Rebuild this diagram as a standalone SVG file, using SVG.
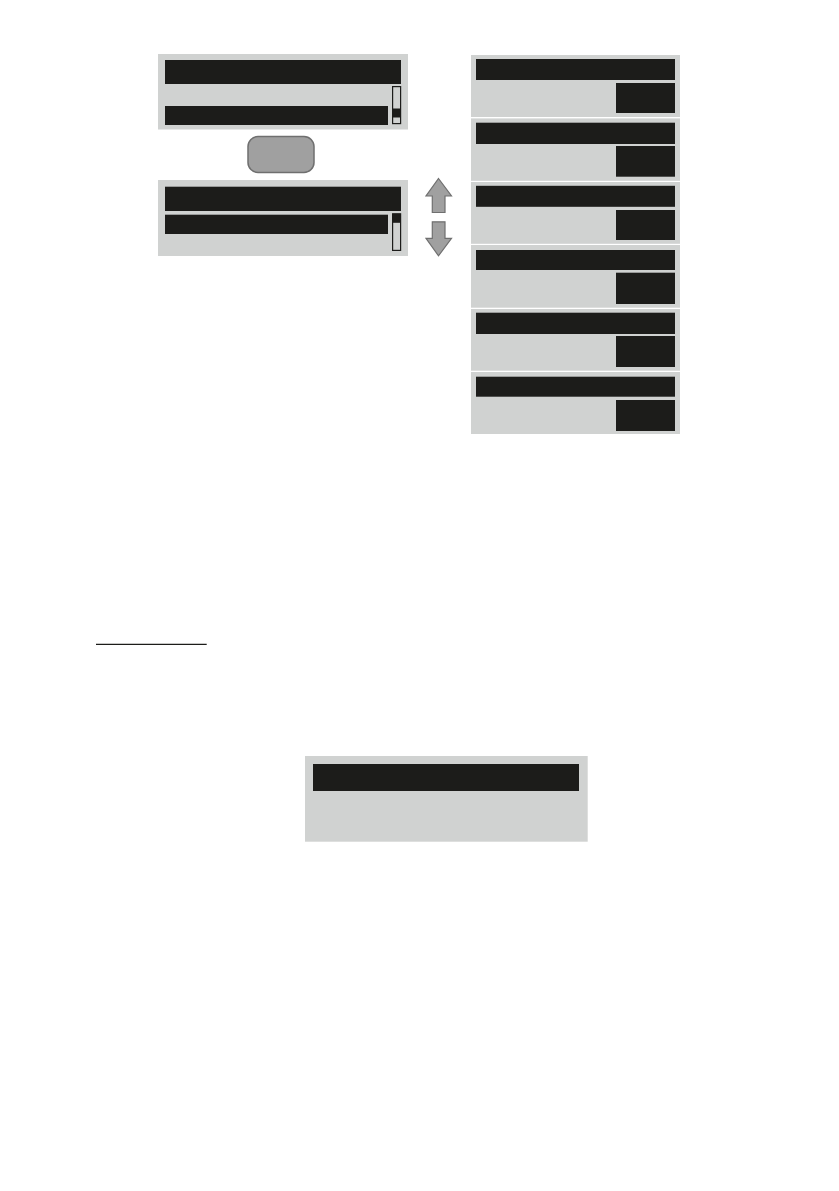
<svg xmlns="http://www.w3.org/2000/svg" width="839" height="1191" viewBox="0 0 839 1191">
<style>
.panel{fill:#d0d2d1}
.bar{fill:#1c1c1a}
.sb{fill:#d0d2d1;stroke:#1c1c1a;stroke-width:1.2}
.btn{fill:#a0a0a0;stroke:#6f6f6f;stroke-width:1.5}
.arr{fill:#a0a0a0;stroke:#6f6f6f;stroke-width:1.2}
</style>
<rect width="839" height="1191" fill="#ffffff"/>
<g id="menu-top">
<rect class="panel" x="158" y="54" width="250" height="75.5"/>
<rect class="bar" x="165" y="60" width="236" height="24"/>
<rect class="bar" x="165" y="106" width="223" height="19"/>
<rect class="sb" x="392.6" y="86.6" width="8" height="37"/>
<rect class="bar" x="392.6" y="108.5" width="8" height="9"/>
</g>
<g id="button">
<rect class="btn" x="248" y="136.5" width="66" height="36" rx="10"/>
</g>
<g id="menu-bottom">
<rect class="panel" x="158" y="180" width="250" height="76"/>
<rect class="bar" x="165" y="186.7" width="236" height="24.3"/>
<rect class="bar" x="165" y="214.7" width="223" height="19.3"/>
<rect class="sb" x="392.6" y="213.8" width="8" height="36.6"/>
<rect class="bar" x="392.6" y="213.8" width="8" height="9"/>
</g>
<g id="arrows">
<path class="arr" d="M438.5,178.5 L451.5,196 L445,196 L445,212.5 L432.3,212.5 L432.3,196 L426,196 Z"/>
<path class="arr" d="M432.3,221.8 L445,221.8 L445,238.3 L451.5,238.3 L438.5,255.8 L426,238.3 L432.3,238.3 Z"/>
</g>
<g id="list-1">
<rect class="panel" x="471" y="55" width="209" height="62"/>
<rect class="bar" x="476" y="59" width="199" height="21"/>
<rect class="bar" x="616" y="83" width="59" height="30"/>
</g>
<g id="list-2">
<rect class="panel" x="471" y="118.4" width="209" height="62.4"/>
<rect class="bar" x="476" y="122.7" width="199" height="21.3"/>
<rect class="bar" x="616" y="146" width="59" height="30.7"/>
</g>
<g id="list-3">
<rect class="panel" x="471" y="182" width="209" height="61.8"/>
<rect class="bar" x="476" y="185.8" width="199" height="21"/>
<rect class="bar" x="616" y="210" width="59" height="30"/>
</g>
<g id="list-4">
<rect class="panel" x="471" y="245" width="209" height="62.7"/>
<rect class="bar" x="476" y="250" width="199" height="20"/>
<rect class="bar" x="616" y="272.7" width="59" height="31.3"/>
</g>
<g id="list-5">
<rect class="panel" x="471" y="309" width="209" height="61.7"/>
<rect class="bar" x="476" y="312.7" width="199" height="21.3"/>
<rect class="bar" x="616" y="336" width="59" height="31"/>
</g>
<g id="list-6">
<rect class="panel" x="471" y="372" width="209" height="62"/>
<rect class="bar" x="476" y="376.7" width="199" height="20"/>
<rect class="bar" x="616" y="400" width="59" height="31"/>
</g>
<g id="underline">
<line x1="96" y1="644.3" x2="206.7" y2="644.3" stroke="#1c1c1a" stroke-width="1.2"/>
</g>
<g id="display">
<rect class="panel" x="305" y="756" width="282.7" height="85.7"/>
<rect class="bar" x="313" y="764" width="266" height="27"/>
</g>
</svg>
